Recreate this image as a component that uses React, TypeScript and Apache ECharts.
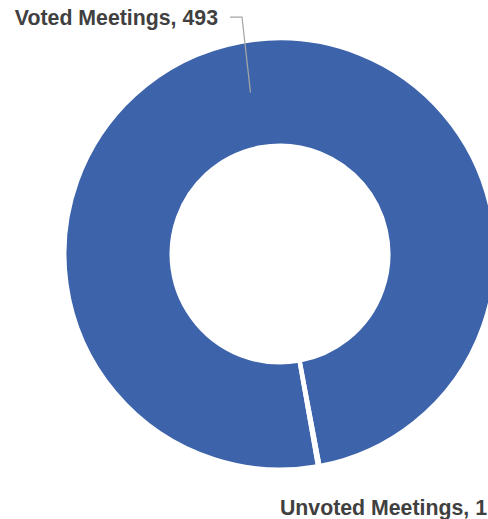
import React, { useEffect, useRef } from 'react';
import * as echarts from 'echarts';

const categories = ['Voted Meetings', 'Unvoted Meetings'];
const values = [493, 1];
const sliceColors = ['#3D63AB', '#FFFFFF'];

const CX = 280;
const CY = 254;
const R_IN = 109;
const R_OUT = 215;
const START = -80;

export default function App() {
  const ref = useRef<HTMLDivElement>(null);
  useEffect(() => {
    document.body.style.margin = '0';
    const chart = echarts.init(ref.current!, null, { renderer: 'svg' });
    const data = categories.map((name, i) => ({
      name,
      value: values[i],
      itemStyle: { color: sliceColors[i] },
    }));
    chart.setOption({
      animation: false,
      backgroundColor: '#ffffff',
      series: [
        {
          type: 'pie',
          center: [CX, CY],
          radius: [R_IN, R_OUT],
          startAngle: START,
          clockwise: true,
          avoidLabelOverlap: false,
          itemStyle: { borderColor: '#ffffff', borderWidth: 3 },
          emphasis: { disabled: true },
          label: { show: false },
          labelLine: { show: false },
          data,
        },
        {
          type: 'pie',
          z: 5,
          silent: true,
          center: [CX, CY],
          radius: [R_IN, R_OUT],
          startAngle: START,
          clockwise: true,
          avoidLabelOverlap: false,
          minShowLabelAngle: 0,
          itemStyle: { color: 'rgba(0,0,0,0)', borderWidth: 0 },
          emphasis: { disabled: true },
          label: {
            show: true,
            formatter: '{b}, {c}',
            fontFamily: '"Liberation Sans", Arial, sans-serif',
            fontWeight: 'bold',
            fontSize: 21.3,
            color: '#404040',
          },
          labelLine: {
            show: true,
            length: 20,
            length2: 10,
            lineStyle: { color: '#A6A6A6', width: 1.25 },
          },
          labelLayout: (p: any) => {
            if (p.dataIndex === 0) {
              const a = p.labelLinePoints ? p.labelLinePoints[0] : [CX, CY - R_OUT];
              const dx = a[0] - CX;
              const dy = a[1] - CY;
              const len = Math.sqrt(dx * dx + dy * dy) || 1;
              const rm = (R_IN + R_OUT) / 2 + 2;
              const mx = CX + (dx / len) * rm;
              const my = CY + (dy / len) * rm;
              return {
                x: 218,
                y: 18,
                align: 'right',
                verticalAlign: 'middle',
                labelLinePoints: [
                  [mx, my],
                  [242, 17],
                  [230, 17],
                ],
              };
            }
            return {
              x: 487,
              y: 508.4,
              align: 'right',
              verticalAlign: 'middle',
            };
          },
          data: categories.map((name, i) => ({
            name,
            value: values[i],
            labelLine: { show: i === 0 },
          })),
        },
      ],
    });
    return () => chart.dispose();
  }, []);
  return <div ref={ref} style={{ width: 488, height: 519 }} />;
}
